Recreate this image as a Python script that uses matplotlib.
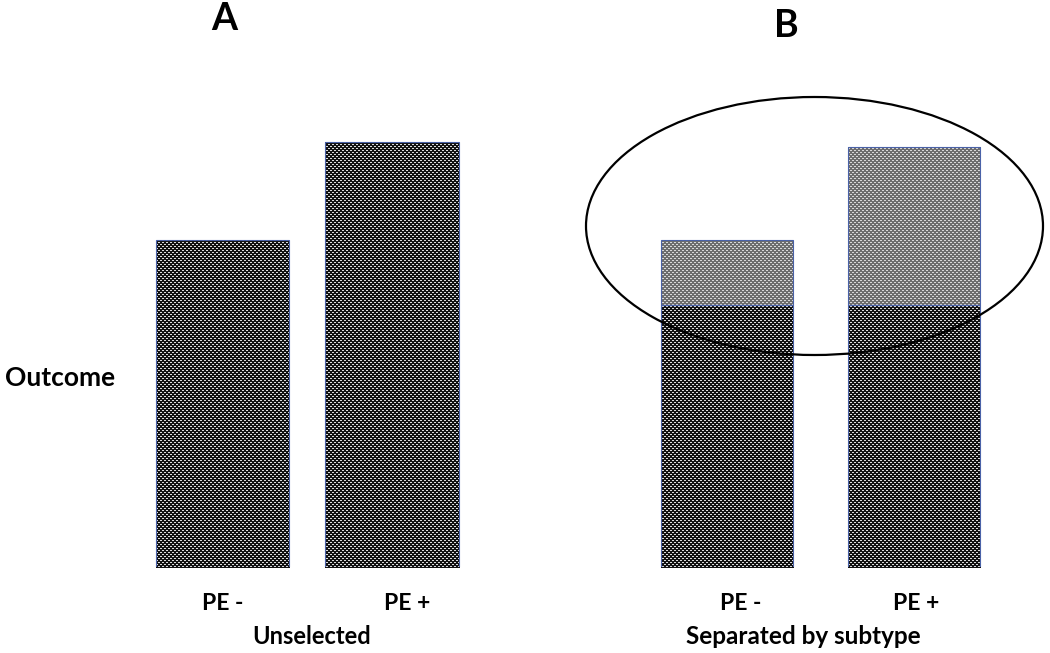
import numpy as np
import matplotlib
matplotlib.use('Agg')
import matplotlib.pyplot as plt
from matplotlib.patches import Ellipse

plt.rcParams['font.family'] = ['Lato', 'DejaVu Sans']

# data (arbitrary outcome units)
groups = ['PE -', 'PE +']
outcome_a = [100, 130]            # panel A, unselected
outcome_b_base = [80, 80]         # panel B, shared part
outcome_b_subtype = [20, 48.5]    # panel B, subtype part (circled)
titles = ['A', 'B']
xlabels = ['Unselected', 'Separated by subtype']

W, H = 1050, 653
UNIT = 3.27      # pixels per outcome unit
BASE = 567       # pixel row of the bar bottoms
EDGE = '#4a62a8'

fig = plt.figure(figsize=(W / 100, H / 100), dpi=100)


def fx(x):
    return x / W


def fy(y):
    return 1 - y / H


def texture(dark, light):
    # dotted fill like the original's pattern, one cell per figure pixel
    yy, xx = np.mgrid[0:H, 0:W]
    dots = (((yy % 4) == 0) & ((xx % 4) < 2)) | (((yy % 4) == 2) & (((xx + 2) % 4) < 2))
    img = np.where(dots, light, dark)
    return np.dstack([img, img, img])


DARK = texture(0.07, 0.86)
GREY = texture(0.43, 0.85)


def panel(x0, x1, c0, spacing, width_px):
    top = 60
    ax = fig.add_axes([fx(x0), fy(BASE), fx(x1 - x0), (BASE - top) / H], zorder=2)
    ax.set_xlim((x0 - c0) / spacing, (x1 - c0) / spacing)
    ax.set_ylim(0, (BASE - top) / UNIT)
    ax.axis('off')
    return ax, width_px / spacing


def fill_bars(bars, tex):
    for b in bars:
        im = fig.figimage(tex, 0, 0, origin='upper', zorder=1)
        im.set_clip_path(b)


x = np.arange(len(groups))

# panel A
axA, wA = panel(130, 490, 222.25, 169.5, 133.5)
barsA = axA.bar(x, outcome_a, wA, fill=False, edgecolor=EDGE, linewidth=0.8)
fill_bars(barsA, DARK)

# panel B
axB, wB = panel(560, 1050, 727, 186.5, 132)
barsB1 = axB.bar(x, outcome_b_base, wB, fill=False, edgecolor=EDGE, linewidth=0.8)
barsB2 = axB.bar(x, outcome_b_subtype, wB, bottom=outcome_b_base, fill=False,
                 edgecolor=EDGE, linewidth=0.8)
fill_bars(barsB1, DARK)
fill_bars(barsB2, GREY)

# ellipse around the subtype parts
fig.add_artist(Ellipse((fx(814.5), fy(226)), 457 / W, 258 / H,
                       transform=fig.transFigure, fill=False, edgecolor='black',
                       linewidth=1.6, zorder=5))

# texts
fig.text(fx(224), fy(19), titles[0], fontsize=27, fontweight='bold', ha='center', va='center')
fig.text(fx(786), fy(26), titles[1], fontsize=27, fontweight='bold', ha='center', va='center')
fig.text(fx(5), fy(378), 'Outcome', fontsize=19, fontweight='bold', ha='left', va='center')

for xc, lab in zip([223, 407, 741, 916], groups * 2):
    fig.text(fx(xc), fy(603), lab, fontsize=16.5, fontweight='bold', ha='center', va='center')
fig.text(fx(312), fy(636), xlabels[0], fontsize=17, fontweight='bold', ha='center', va='center')
fig.text(fx(803), fy(636), xlabels[1], fontsize=17.5, fontweight='bold', ha='center', va='center')

fig.savefig('out.png', dpi=100)
